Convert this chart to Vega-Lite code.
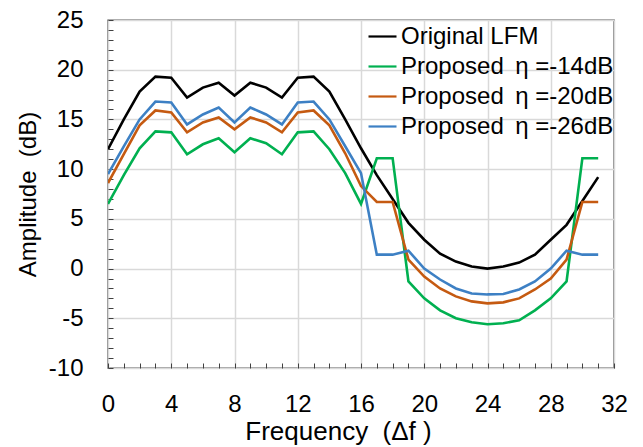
{
  "$schema": "https://vega.github.io/schema/vega-lite/v6.json",
  "width": 506,
  "height": 348,
  "autosize": {"type": "none"},
  "padding": {"left": 108, "top": 20, "right": 29, "bottom": 79},
  "background": "white",
  "config": {
    "font": "Liberation Sans",
    "view": {"stroke": "#404040", "strokeWidth": 1.4}
  },
  "data": {
    "values": [
      {"f": 0, "lfm": 12.0, "p14": 6.5, "p20": 8.6, "p26": 9.5},
      {"f": 1, "lfm": 15.0, "p14": 9.4, "p20": 11.5, "p26": 12.3},
      {"f": 2, "lfm": 17.8, "p14": 12.1, "p20": 14.4, "p26": 15.0},
      {"f": 3, "lfm": 19.3, "p14": 13.8, "p20": 15.9, "p26": 16.8},
      {"f": 4, "lfm": 19.2, "p14": 13.7, "p20": 15.7, "p26": 16.7},
      {"f": 5, "lfm": 17.2, "p14": 11.5, "p20": 13.7, "p26": 14.5},
      {"f": 6, "lfm": 18.2, "p14": 12.5, "p20": 14.7, "p26": 15.5},
      {"f": 7, "lfm": 18.7, "p14": 13.1, "p20": 15.2, "p26": 16.2},
      {"f": 8, "lfm": 17.4, "p14": 11.7, "p20": 14.0, "p26": 14.7},
      {"f": 9, "lfm": 18.7, "p14": 13.1, "p20": 15.2, "p26": 16.2},
      {"f": 10, "lfm": 18.2, "p14": 12.6, "p20": 14.7, "p26": 15.5},
      {"f": 11, "lfm": 17.2, "p14": 11.5, "p20": 13.7, "p26": 14.5},
      {"f": 12, "lfm": 19.2, "p14": 13.7, "p20": 15.7, "p26": 16.7},
      {"f": 13, "lfm": 19.3, "p14": 13.8, "p20": 15.9, "p26": 16.8},
      {"f": 14, "lfm": 17.8, "p14": 12.0, "p20": 14.4, "p26": 15.0},
      {"f": 15, "lfm": 15.0, "p14": 9.6, "p20": 11.6, "p26": 12.3},
      {"f": 16, "lfm": 12.1, "p14": 6.5, "p20": 8.3, "p26": 9.6},
      {"f": 17, "lfm": 9.4, "p14": 11.1, "p20": 6.7, "p26": 1.4},
      {"f": 18, "lfm": 7.0, "p14": 11.1, "p20": 6.7, "p26": 1.4},
      {"f": 19, "lfm": 4.6, "p14": -1.3, "p20": 0.9, "p26": 1.8},
      {"f": 20, "lfm": 2.9, "p14": -3.0, "p20": -0.8, "p26": 0.0},
      {"f": 21, "lfm": 1.5, "p14": -4.2, "p20": -2.0, "p26": -1.1},
      {"f": 22, "lfm": 0.7, "p14": -5.0, "p20": -2.8, "p26": -2.0},
      {"f": 23, "lfm": 0.2, "p14": -5.4, "p20": -3.3, "p26": -2.5},
      {"f": 24, "lfm": 0.0, "p14": -5.6, "p20": -3.5, "p26": -2.6},
      {"f": 25, "lfm": 0.2, "p14": -5.5, "p20": -3.4, "p26": -2.55},
      {"f": 26, "lfm": 0.6, "p14": -5.2, "p20": -3.0, "p26": -2.1},
      {"f": 27, "lfm": 1.4, "p14": -4.2, "p20": -2.1, "p26": -1.3},
      {"f": 28, "lfm": 2.9, "p14": -3.0, "p20": -1.0, "p26": 0.0},
      {"f": 29, "lfm": 4.4, "p14": -1.3, "p20": 0.9, "p26": 1.8},
      {"f": 30, "lfm": 6.8, "p14": 11.1, "p20": 6.7, "p26": 1.4},
      {"f": 31, "lfm": 9.2, "p14": 11.1, "p20": 6.7, "p26": 1.4}
    ]
  },
  "transform": [
    {"fold": ["lfm", "p14", "p20", "p26"], "as": ["series", "amp"]}
  ],
  "mark": {"type": "line", "strokeWidth": 2.6, "clip": true},
  "encoding": {
    "x": {
      "field": "f",
      "type": "quantitative",
      "scale": {"domain": [0, 32], "nice": false, "zero": false},
      "axis": {
        "values": [0,1,2,3,4,5,6,7,8,9,10,11,12,13,14,15,16,17,18,19,20,21,22,23,24,25,26,27,28,29,30,31,32],
        "labelExpr": "datum.value % 4 === 0 ? '' + datum.value : ''",
        "title": "Frequency\u00a0\u00a0(Δf\u00a0)",
        "titleFont": "Liberation Sans",
        "titleFontSize": 26,
        "titleFontWeight": "normal",
        "titleColor": "#000000",
        "titlePadding": 2,
        "titleX": 230,
        "labelFontSize": 24,
        "labelColor": "#000000",
        "labelPadding": 24,
        "labelFlush": false,
        "labelOverlap": false,
        "offset": -5,
        "domain": false,
        "ticks": true,
        "tickColor": "#404040",
        "tickSize": 5,
        "tickWidth": 1,
        "grid": true,
        "gridColor": "#d9d9d9",
        "gridWidth": 1.5,
        "gridOpacity": {"condition": {"test": "datum.value % 4 === 0", "value": 1}, "value": 0}
      }
    },
    "y": {
      "field": "amp",
      "type": "quantitative",
      "scale": {"domain": [-10, 25], "nice": false, "zero": false},
      "axis": {
        "values": [-10,-9,-8,-7,-6,-5,-4,-3,-2,-1,0,1,2,3,4,5,6,7,8,9,10,11,12,13,14,15,16,17,18,19,20,21,22,23,24,25],
        "labelExpr": "datum.value % 5 === 0 ? '' + datum.value : ''",
        "title": "Amplitude\u00a0\u00a0(dB)",
        "titleFont": "Liberation Sans",
        "titleFontSize": 24,
        "titleFontWeight": "normal",
        "titleColor": "#000000",
        "titlePadding": 8,
        "labelFontSize": 24,
        "labelColor": "#000000",
        "labelPadding": 25,
        "labelFlush": false,
        "labelOverlap": false,
        "offset": -5,
        "domain": false,
        "ticks": true,
        "tickColor": "#404040",
        "tickSize": 5,
        "tickWidth": 1,
        "grid": true,
        "gridColor": "#d9d9d9",
        "gridWidth": 1.5,
        "gridOpacity": {"condition": {"test": "datum.value % 5 === 0", "value": 1}, "value": 0}
      }
    },
    "color": {
      "field": "series",
      "type": "nominal",
      "scale": {
        "domain": ["lfm", "p14", "p20", "p26"],
        "range": ["#000000", "#00b050", "#c55a11", "#3d80c4"]
      },
      "legend": {
        "orient": "none",
        "legendX": 259,
        "legendY": 1,
        "title": null,
        "labelExpr": "datum.value === 'lfm' ? 'Original LFM' : datum.value === 'p14' ? 'Proposed\u00a0\u2009η\u00a0=-14dB' : datum.value === 'p20' ? 'Proposed\u00a0\u2009η\u00a0=-20dB' : 'Proposed\u00a0\u2009η\u00a0=-26dB'",
        "labelFont": "Liberation Sans",
        "labelFontSize": 24,
        "labelColor": "#000000",
        "labelOffset": 3,
        "labelLimit": 400,
        "symbolType": "stroke",
        "symbolSize": 784,
        "symbolStrokeWidth": 2.2,
        "rowPadding": 2,
        "padding": 0
      }
    }
  }
}
